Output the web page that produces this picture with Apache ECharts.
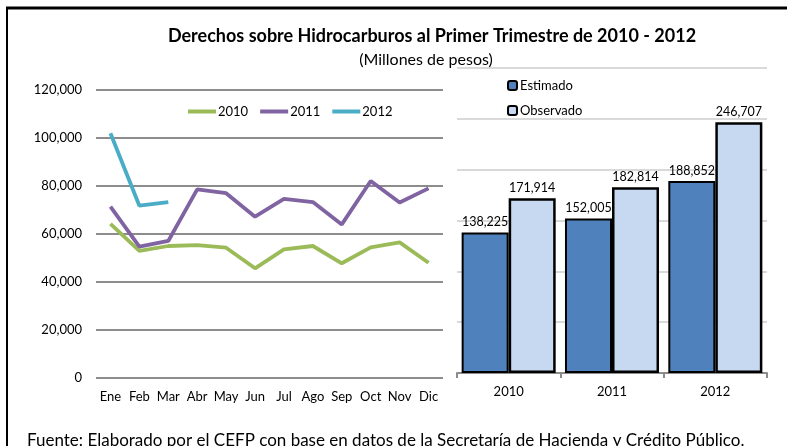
<!DOCTYPE html>
<html>
<head>
<meta charset="utf-8">
<script src="https://cdn.jsdelivr.net/npm/echarts@6/dist/echarts.min.js"></script>
<style>
  html, body { margin: 0; padding: 0; background: #fff; }
  #chart { width: 789px; height: 446px; }
</style>
</head>
<body>
<div id="chart"></div>
<script>
// monthly values (millones de pesos)
var months = ['Ene', 'Feb', 'Mar', 'Abr', 'May', 'Jun', 'Jul', 'Ago', 'Sep', 'Oct', 'Nov', 'Dic'];
var v2010 = [64200, 53000, 55000, 55400, 54300, 45700, 53600, 55000, 47800, 54400, 56500, 48000];
var v2011 = [71400, 54700, 57100, 78600, 77000, 67200, 74600, 73300, 64000, 82100, 73100, 79000];
var v2012 = [102000, 71800, 73300];

// first quarter totals
var years = ['2010', '2011', '2012'];
var estimado = [138225, 152005, 188852];
var observado = [171914, 182814, 246707];

var FONT = 'Lato, "Open Sans", sans-serif';
var fmt = function (v) { return Number(v).toLocaleString('en-US'); };

var chart = echarts.init(document.getElementById('chart'), null, { renderer: 'canvas' });

var option = {
    backgroundColor: '#fff',
    animation: false,
    textStyle: { fontFamily: FONT },
    title: [
        {
            text: 'Derechos sobre Hidrocarburos al Primer Trimestre de 2010 - 2012',
            left: 427, top: 22, textAlign: 'center',
            textStyle: { fontFamily: FONT, fontSize: 18, fontWeight: 'bold', color: '#000' }
        },
        {
            text: '(Millones de pesos)',
            left: 421, top: 47, textAlign: 'center',
            textStyle: { fontFamily: FONT, fontSize: 16, fontWeight: 'normal', color: '#000' }
        },
        {
            text: 'Fuente: Elaborado por el CEFP con base en datos de la Secretaría de Hacienda y Crédito Público.',
            left: 22, top: 427,
            textStyle: { fontFamily: FONT, fontSize: 17, fontWeight: 'normal', color: '#000' }
        }
    ],
    legend: [
        {
            data: ['2010', '2011', '2012'],
            left: 183, top: 100,
            icon: 'rect', itemWidth: 28, itemHeight: 4, itemGap: 12,
            textStyle: { fontFamily: FONT, fontSize: 13, color: '#000', padding: [0, 0, 0, -3] }
        },
        {
            data: ['Estimado', 'Observado'],
            orient: 'vertical',
            left: 502, top: 74,
            itemWidth: 9, itemHeight: 9, itemGap: 12,
            textStyle: { fontFamily: FONT, fontSize: 13, color: '#000', padding: [0, 0, 0, -2] }
        }
    ],
    grid: [
        { left: 96, right: 346, top: 90, bottom: 68 },
        { left: 457, right: 22, top: 68, bottom: 73 }
    ],
    xAxis: [
        {
            gridIndex: 0, type: 'category', data: months,
            axisLine: { show: false }, axisTick: { show: false },
            axisLabel: { interval: 0, margin: 12, fontFamily: FONT, fontSize: 13, color: '#000' }
        },
        {
            gridIndex: 1, type: 'category', data: years,
            axisLine: { lineStyle: { color: '#8c8c8c', width: 2 } },
            axisTick: { show: true, length: 5, lineStyle: { color: '#8c8c8c', width: 2 } },
            axisLabel: { margin: 12, fontFamily: FONT, fontSize: 13, color: '#000' }
        }
    ],
    yAxis: [
        {
            gridIndex: 0, type: 'value', min: 0, max: 120000, interval: 20000,
            axisLine: { show: false }, axisTick: { show: false },
            axisLabel: { margin: 14, fontFamily: FONT, fontSize: 13, color: '#000', formatter: fmt },
            splitLine: { lineStyle: { color: '#8c8c8c', width: 2 } }
        },
        {
            gridIndex: 1, type: 'value', min: 0, max: 300000, interval: 50000,
            axisLine: { show: false }, axisTick: { show: false },
            axisLabel: { show: false },
            splitLine: { lineStyle: { color: '#d9d9d9', width: 2 } }
        }
    ],
    series: [
        {
            name: '2010', type: 'line', xAxisIndex: 0, yAxisIndex: 0, data: v2010,
            showSymbol: false, symbol: 'none', color: '#9bbb59',
            lineStyle: { width: 3.8, color: '#9bbb59' }
        },
        {
            name: '2011', type: 'line', xAxisIndex: 0, yAxisIndex: 0, data: v2011,
            showSymbol: false, symbol: 'none', color: '#8064a2',
            lineStyle: { width: 3.8, color: '#8064a2' }
        },
        {
            name: '2012', type: 'line', xAxisIndex: 0, yAxisIndex: 0, data: v2012,
            showSymbol: false, symbol: 'none', color: '#4bacc6',
            lineStyle: { width: 3.8, color: '#4bacc6' }
        },
        {
            name: 'Estimado', type: 'bar', xAxisIndex: 1, yAxisIndex: 1, data: estimado,
            barGap: '0%', barCategoryGap: '9%',
            itemStyle: { color: '#4f81bd', borderColor: '#000', borderWidth: 2 },
            label: { show: true, position: 'top', distance: 4, formatter: function (p) { return fmt(p.value); },
                fontFamily: FONT, fontSize: 12.5, color: '#000' }
        },
        {
            name: 'Observado', type: 'bar', xAxisIndex: 1, yAxisIndex: 1, data: observado,
            barGap: '0%', barCategoryGap: '9%',
            itemStyle: { color: '#c6d9f1', borderColor: '#000', borderWidth: 2.5 },
            label: { show: true, position: 'top', distance: 4, formatter: function (p) { return fmt(p.value); },
                fontFamily: FONT, fontSize: 12.5, color: '#000' }
        }
    ],
    graphic: [
        { type: 'line', shape: { x1: 6, y1: 8, x2: 787, y2: 8 }, style: { stroke: '#000', lineWidth: 3 }, z: 100 },
        { type: 'line', shape: { x1: 7, y1: 7, x2: 7, y2: 446 }, style: { stroke: '#000', lineWidth: 2 }, z: 100 }
    ]
};

chart.setOption(option);
</script>
</body>
</html>
